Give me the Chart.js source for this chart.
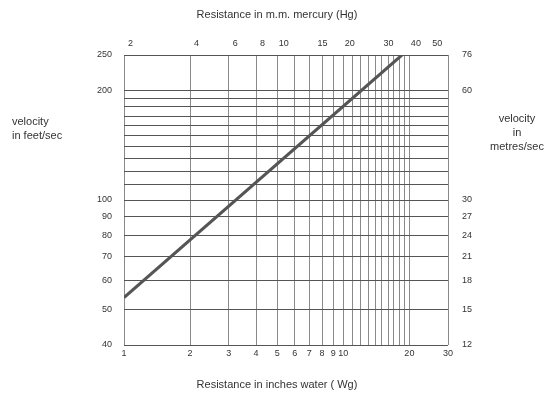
<!DOCTYPE html>
<html>
<head>
<meta charset="utf-8">
<script src="https://cdn.jsdelivr.net/npm/chart.js@4"></script>
<style>
  body { margin: 0; background: #fff; }
  #wrap { position: relative; width: 554px; height: 399px; font-family: "Liberation Sans", Arial, sans-serif; color: #333; }
  #wrap canvas { position: absolute; left: 0; top: 0; }
  .lbl { position: absolute; font-size: 11px; line-height: 14px; white-space: nowrap; }
</style>
</head>
<body>
<div id="wrap">
  <canvas id="chart" width="554" height="399"></canvas>
  <div class="lbl" style="left:0;width:554px;top:7px;text-align:center;padding-left:-2px">Resistance in m.m. mercury (Hg)</div>
  <div class="lbl" style="left:0;width:554px;top:377px;text-align:center">Resistance in inches water ( Wg)</div>
  <div class="lbl" style="left:12px;top:114px">velocity<br>in feet/sec</div>
  <div class="lbl" style="left:486px;top:111px;text-align:center;width:62px">velocity<br>in<br>metres/sec</div>
</div>
<script>
// bottom axis: resistance in inches water (log)
const waterGrid = [1, 2, 3, 4, 5, 6, 7, 8, 9, 10, 11, 12, 13, 14, 15, 16, 17, 18, 19, 20, 30];
const waterLabels = [1, 2, 3, 4, 5, 6, 7, 8, 9, 10, 20, 30];

// top axis: resistance in mm mercury
const mercuryTicks = [2, 4, 6, 8, 10, 15, 20, 30, 40, 50];

// left axis: velocity ft/sec
const feetGrid = [40, 50, 60, 70, 80, 90, 100, 110, 120, 130, 140, 150, 160, 170, 180, 190, 200, 250];
const feetLabels = [40, 50, 60, 70, 80, 90, 100, 200, 250];

// right axis: velocity m/sec, shown against the ft/sec lines
const metreAt = [40, 50, 60, 70, 80, 90, 100, 200, 250];
const metreLabels = [12, 15, 18, 21, 24, 27, 30, 60, 76];

// the velocity line
const lineWater = [1, 18.5];
const lineVelocity = [54, 250];

const INCH_TO_MM = 1.868;
const tickFont = { family: '"Liberation Sans", Arial, sans-serif', size: 9 };

function fixWidth(w) { return function(scale) { scale.width = w; }; }
function fixHeight(h) { return function(scale) { scale.height = h; }; }

new Chart(document.getElementById('chart').getContext('2d'), {
  type: 'scatter',
  data: {
    datasets: [{
      data: lineWater.map((x, i) => ({ x: x, y: lineVelocity[i] })),
      showLine: true,
      borderColor: '#555',
      borderWidth: 3,
      pointRadius: 0,
      xAxisID: 'x',
      yAxisID: 'y'
    }]
  },
  options: {
    responsive: false,
    animation: false,
    layout: { padding: 0 },
    plugins: { legend: { display: false }, tooltip: { enabled: false } },
    scales: {
      x: {
        type: 'logarithmic', position: 'bottom', min: 1, max: 30,
        afterBuildTicks: axis => { axis.ticks = waterGrid.map(v => ({ value: v })); },
        afterFit: fixHeight(54),
        grid: { color: '#8a8a8a', lineWidth: 1, drawTicks: false },
        border: { display: false },
        ticks: {
          autoSkip: false, maxRotation: 0, padding: 3, color: '#333', font: tickFont,
          callback: v => waterLabels.includes(v) ? String(v) : ''
        }
      },
      x2: {
        type: 'logarithmic', position: 'top', min: INCH_TO_MM, max: 30 * INCH_TO_MM,
        afterBuildTicks: axis => { axis.ticks = mercuryTicks.map(v => ({ value: v })); },
        afterFit: fixHeight(55),
        grid: { display: false, drawTicks: false },
        border: { display: false },
        ticks: {
          autoSkip: false, maxRotation: 0, padding: 6, color: '#333', font: tickFont,
          callback: v => String(v)
        }
      },
      y: {
        type: 'logarithmic', position: 'left', min: 40, max: 250,
        afterBuildTicks: axis => { axis.ticks = feetGrid.map(v => ({ value: v })); },
        afterFit: fixWidth(124),
        grid: { color: '#555', lineWidth: 1, drawTicks: false },
        border: { display: false },
        ticks: {
          autoSkip: false, padding: 12, color: '#333', font: tickFont,
          callback: v => feetLabels.includes(v) ? String(v) : ''
        }
      },
      y2: {
        type: 'logarithmic', position: 'right', min: 40, max: 250,
        afterBuildTicks: axis => { axis.ticks = metreAt.map(v => ({ value: v })); },
        afterFit: fixWidth(106),
        grid: { display: false, drawTicks: false },
        border: { display: false },
        ticks: {
          autoSkip: false, padding: 14, color: '#333', font: tickFont,
          callback: v => String(metreLabels[metreAt.indexOf(v)])
        }
      }
    }
  }
});
</script>
</body>
</html>
